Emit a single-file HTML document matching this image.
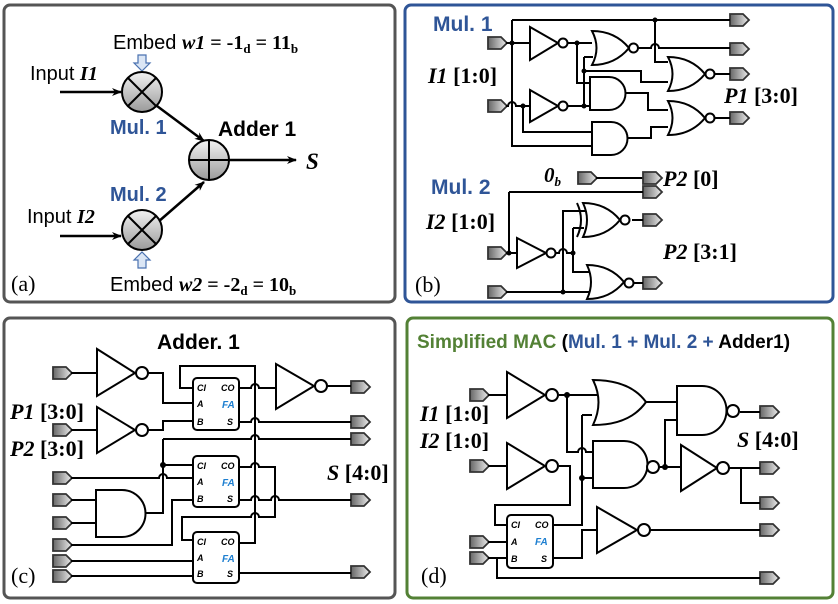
<!DOCTYPE html>
<html><head><meta charset="utf-8"><style>
html,body{margin:0;padding:0;background:#fff}
svg{display:block}
.w{fill:none;stroke:#000;stroke-width:2}
.g{fill:#fff;stroke:#000;stroke-width:2}
.ser{font-family:"Liberation Serif",serif}
.sans{font-family:"Liberation Sans",sans-serif}
</style></head><body>
<svg width="838" height="604" viewBox="0 0 838 604" xmlns="http://www.w3.org/2000/svg">
<defs>
<linearGradient id="pg" x1="0" y1="0" x2="1" y2="0"><stop offset="0" stop-color="#666"/><stop offset="1" stop-color="#eee"/></linearGradient>
<linearGradient id="cg" x1="0" y1="0" x2="0" y2="1"><stop offset="0" stop-color="#f2f2f2"/><stop offset="1" stop-color="#9a9a9a"/></linearGradient>
<g id="pin"><path d="M0,-6 H13 L19,0 L13,6 H0 Z" fill="url(#pg)" stroke="#333" stroke-width="1.8"/></g>
<marker id="ar" markerWidth="10" markerHeight="8" refX="9" refY="4" orient="auto" markerUnits="userSpaceOnUse"><path d="M0,0 L10,4 L0,8 L3,4 Z" fill="#000"/></marker>
</defs>

<rect x="4" y="5" width="391" height="297" rx="6" fill="#fff" stroke="#555" stroke-width="3"/>
<rect x="405" y="5" width="428" height="297" rx="6" fill="#fff" stroke="#2f5597" stroke-width="3"/>
<rect x="4" y="318" width="391" height="280" rx="6" fill="#fff" stroke="#555" stroke-width="3"/>
<rect x="407" y="318" width="426" height="280" rx="6" fill="#fff" stroke="#538135" stroke-width="3"/>

<!-- ===== (a) ===== -->
<text x="113" y="49" font-size="20" class="sans">Embed <tspan class="ser" font-weight="bold" font-style="italic">w1</tspan><tspan class="ser" font-weight="bold"> = -1<tspan font-size="13" dy="4">d</tspan><tspan dy="-4"> = 11</tspan><tspan font-size="13" dy="4">b</tspan></tspan></text>
<path d="M138,55 h8 v8 h4 l-8,8 l-8,-8 h4 z" fill="#dbe6f5" stroke="#4a72b0" stroke-width="1.2"/>
<text x="30" y="80" font-size="20" class="sans">Input <tspan class="ser" font-weight="bold" font-style="italic">I1</tspan></text>
<line x1="60" y1="92" x2="121" y2="92" stroke="#000" stroke-width="2.5" marker-end="url(#ar)"/>
<circle cx="142" cy="92" r="20" fill="url(#cg)" stroke="#000" stroke-width="2"/>
<path d="M128,78 L156,106 M156,78 L128,106" stroke="#000" stroke-width="2"/>
<text x="110" y="134" font-size="20" font-weight="bold" fill="#2f5597" class="sans">Mul. 1</text>
<text x="218" y="136" font-size="21" font-weight="bold" class="sans">Adder 1</text>
<line x1="157" y1="106" x2="204" y2="141" stroke="#000" stroke-width="2.5" marker-end="url(#ar)"/>
<circle cx="209" cy="160" r="20" fill="url(#cg)" stroke="#000" stroke-width="2"/>
<path d="M189,160 H229 M209,140 V180" stroke="#000" stroke-width="2"/>
<line x1="229" y1="160" x2="296" y2="160" stroke="#000" stroke-width="2.5" marker-end="url(#ar)"/>
<text x="306" y="169" font-size="23" font-weight="bold" font-style="italic" class="ser">S</text>
<text x="110" y="201" font-size="20" font-weight="bold" fill="#2f5597" class="sans">Mul. 2</text>
<line x1="158" y1="222" x2="204" y2="182" stroke="#000" stroke-width="2.5" marker-end="url(#ar)"/>
<text x="27" y="223" font-size="20" class="sans">Input <tspan class="ser" font-weight="bold" font-style="italic">I2</tspan></text>
<line x1="60" y1="236" x2="121" y2="236" stroke="#000" stroke-width="2.5" marker-end="url(#ar)"/>
<circle cx="142" cy="230" r="20" fill="url(#cg)" stroke="#000" stroke-width="2"/>
<path d="M128,216 L156,244 M156,216 L128,244" stroke="#000" stroke-width="2"/>
<path d="M138,268 h8 v-8 h4 l-8,-8 l-8,8 h4 z" fill="#dbe6f5" stroke="#4a72b0" stroke-width="1.2"/>
<text x="110" y="291" font-size="20" class="sans">Embed <tspan class="ser" font-weight="bold" font-style="italic">w2</tspan><tspan class="ser" font-weight="bold"> = -2<tspan font-size="13" dy="4">d</tspan><tspan dy="-4"> = 10</tspan><tspan font-size="13" dy="4">b</tspan></tspan></text>
<text x="11" y="291" font-size="22" class="ser">(a)</text>

<!-- ===== (b) ===== -->
<text x="433" y="31" font-size="21" font-weight="bold" fill="#2f5597" class="sans">Mul. 1</text>
<text x="428" y="83" font-size="22" font-weight="bold" class="ser"><tspan font-style="italic">I1</tspan> [1:0]</text>
<text x="724" y="103" font-size="22" font-weight="bold" class="ser"><tspan font-style="italic">P1</tspan> [3:0]</text>
<use href="#pin" x="488" y="43"/><use href="#pin" x="488" y="106"/>
<use href="#pin" x="730" y="20"/><use href="#pin" x="730" y="49"/><use href="#pin" x="730" y="74"/><use href="#pin" x="730" y="118"/>
<path class="w" d="M506,43 H530 M512,20 V146 H592 M512,20 H730 M506,106 H508 A4,4 0 0 1 516,106 H530"/>
<path class="w" d="M523,106 V132 H592 M568,43 H592 M577,43 V83 H590 M568,106 H590 M584,57 V106 M584,57 H593 M584,71 H641 V82 H668"/>
<path class="w" d="M638,48 H651 A4,4 0 0 1 659,48 H730 M655,20 V62 H668 M715,74 H730 M715,118 H730 M626,93 H648 V110 H668 M626,138 H651 V127 H668"/>
<polygon class="g" points="530,27 530,60 558,43"/><circle class="g" cx="563" cy="43" r="4.5"/>
<polygon class="g" points="530,90 530,122 558,106"/><circle class="g" cx="563" cy="106" r="4.5"/>
<path class="g" d="M592,31 Q615,31 629,48 Q615,65 592,65 Q601,48 592,31 Z"/><circle class="g" cx="633.5" cy="48" r="4.5"/>
<path class="g" d="M590,77 H609 A16.5,16.5 0 0 1 609,110 H590 Z"/>
<path class="g" d="M592,122 H611 A16.5,16.5 0 0 1 611,155 H592 Z"/>
<path class="g" d="M668,57 Q691,57 705,74 Q691,91 668,91 Q677,74 668,57 Z"/><circle class="g" cx="710" cy="74" r="4.5"/>
<path class="g" d="M668,101 Q691,101 705,118 Q691,135 668,135 Q677,118 668,101 Z"/><circle class="g" cx="710" cy="118" r="4.5"/>
<g fill="#000"><circle cx="512" cy="43" r="2.5"/><circle cx="577" cy="43" r="2.5"/><circle cx="523" cy="106" r="2.5"/><circle cx="584" cy="106" r="2.5"/><circle cx="584" cy="71" r="2.5"/><circle cx="655" cy="20" r="2.5"/></g>

<text x="544" y="182" font-size="21" font-weight="bold" font-style="italic" class="ser">0<tspan font-size="13" dy="4">b</tspan></text>
<use href="#pin" x="578" y="178"/><path class="w" d="M596,178 H643"/><use href="#pin" x="643" y="178"/>
<text x="663" y="186" font-size="22" font-weight="bold" class="ser"><tspan font-style="italic">P2</tspan> [0]</text>
<text x="431" y="194" font-size="21" font-weight="bold" fill="#2f5597" class="sans">Mul. 2</text>
<text x="426" y="229" font-size="22" font-weight="bold" class="ser"><tspan font-style="italic">I2</tspan> [1:0]</text>
<text x="663" y="259" font-size="22" font-weight="bold" class="ser"><tspan font-style="italic">P2</tspan> [3:1]</text>
<use href="#pin" x="643" y="192"/><use href="#pin" x="643" y="220"/><use href="#pin" x="643" y="283"/>
<use href="#pin" x="488" y="253"/><use href="#pin" x="488" y="292"/>
<path class="w" d="M509,192 H643 M509,192 V253 M506,253 H517 M556,253 H559 A4,4 0 0 1 567,253 H573 M506,292 H590 M563,292 V211 H585 M573,228 H584 M573,228 V272 H592 M632,220 H643 M632,283 H643"/>
<polygon class="g" points="517,238 517,268 546,253"/><circle class="g" cx="551" cy="253" r="4.5"/>
<path class="w" d="M577,203 Q585,220 577,237"/>
<path class="g" d="M583,203 Q606,203 620,220 Q606,237 583,237 Q591,220 583,203 Z"/><circle class="g" cx="625" cy="220" r="4.5"/>
<path class="g" d="M587,265 Q610,265 624,282 Q610,299 587,299 Q595,282 587,265 Z"/><circle class="g" cx="629" cy="283" r="4.5"/>
<g fill="#000"><circle cx="509" cy="253" r="2.5"/><circle cx="573" cy="253" r="2.5"/><circle cx="563" cy="292" r="2.5"/></g>
<text x="415" y="292" font-size="22" class="ser">(b)</text>

<!-- ===== (c) ===== -->
<text x="157" y="349" font-size="21" font-weight="bold" class="sans">Adder. 1</text>
<text x="10" y="419" font-size="22" font-weight="bold" class="ser"><tspan font-style="italic">P1</tspan> [3:0]</text>
<text x="10" y="456" font-size="22" font-weight="bold" class="ser"><tspan font-style="italic">P2</tspan> [3:0]</text>
<text x="327" y="480" font-size="22" font-weight="bold" class="ser"><tspan font-style="italic">S</tspan> [4:0]</text>
<use href="#pin" x="53" y="373"/><use href="#pin" x="53" y="430"/><use href="#pin" x="53" y="478"/><use href="#pin" x="53" y="500"/><use href="#pin" x="53" y="523"/><use href="#pin" x="53" y="545"/><use href="#pin" x="53" y="561"/><use href="#pin" x="53" y="576"/>
<use href="#pin" x="351" y="387"/><use href="#pin" x="351" y="422"/><use href="#pin" x="351" y="439"/><use href="#pin" x="351" y="500"/><use href="#pin" x="351" y="572"/>
<path class="w" d="M71,373 H97 M71,430 H97 M148,373 H163 V403 H193 M148,430 H163 V421 H193"/>
<path class="w" d="M239,388 H251 A4,4 0 0 1 259,388 H275 M327,386 H351 M239,422 H251 A4,4 0 0 1 259,422 H351"/>
<path class="w" d="M239,543 H255 V366 H180 V388 H193"/>
<path class="w" d="M163,439 H251 A4,4 0 0 1 259,439 H351 M163,439 V513 H145 M163,465 H193"/>
<path class="w" d="M71,478 H159 A4,4 0 0 1 167,478 H193 M71,500 H96 M71,523 H96 M71,545 H172 V500 H193"/>
<path class="w" d="M239,467 H251 A4,4 0 0 1 259,467 H275 V517 H259 A4,4 0 0 0 251,517 H182 V540 H193"/>
<path class="w" d="M239,500 H251 A4,4 0 0 1 259,500 H271 A4,4 0 0 1 279,500 H351"/>
<path class="w" d="M71,561 H193 M71,576 H193 M239,573 H351"/>
<polygon class="g" points="97,349 97,396 135,373"/><circle class="g" cx="142" cy="373" r="6"/>
<polygon class="g" points="97,407 97,453 135,430"/><circle class="g" cx="142" cy="430" r="6"/>
<polygon class="g" points="276,364 276,409 314,386"/><circle class="g" cx="321" cy="386" r="6"/>
<path class="g" d="M96,490 H122 A23.5,23.5 0 0 1 122,537 H96 Z"/>
<circle cx="163" cy="465" r="3" fill="#000"/>
<g class="sans" font-size="9" font-style="italic" font-weight="bold">
<rect class="g" x="193" y="378" width="46" height="52" rx="4"/>
<text x="197" y="391">CI</text><text x="197" y="407">A</text><text x="197" y="425">B</text><text x="221" y="391">CO</text><text x="222" y="408" fill="#1e7fd0" font-size="10">FA</text><text x="227" y="425">S</text>
<rect class="g" x="193" y="456" width="46" height="51" rx="4"/>
<text x="197" y="469">CI</text><text x="197" y="485">A</text><text x="197" y="502">B</text><text x="221" y="469">CO</text><text x="222" y="486" fill="#1e7fd0" font-size="10">FA</text><text x="227" y="502">S</text>
<rect class="g" x="193" y="532" width="46" height="51" rx="4"/>
<text x="197" y="545">CI</text><text x="197" y="561">A</text><text x="197" y="577">B</text><text x="221" y="545">CO</text><text x="222" y="562" fill="#1e7fd0" font-size="10">FA</text><text x="227" y="577">S</text>
</g>
<text x="11" y="583" font-size="22" class="ser">(c)</text>

<!-- ===== (d) ===== -->
<text x="417" y="348" font-size="19" font-weight="bold" class="sans"><tspan fill="#538135">Simplified MAC</tspan> (<tspan fill="#2f5597">Mul. 1 + Mul. 2 +</tspan> Adder1)</text>
<text x="420" y="421" font-size="22" font-weight="bold" class="ser"><tspan font-style="italic">I1</tspan> [1:0]</text>
<text x="420" y="448" font-size="22" font-weight="bold" class="ser"><tspan font-style="italic">I2</tspan> [1:0]</text>
<text x="737" y="447" font-size="22" font-weight="bold" class="ser"><tspan font-style="italic">S</tspan> [4:0]</text>
<use href="#pin" x="470" y="395"/><use href="#pin" x="470" y="466"/><use href="#pin" x="470" y="542"/><use href="#pin" x="470" y="558"/>
<use href="#pin" x="760" y="412"/><use href="#pin" x="760" y="468"/><use href="#pin" x="760" y="503"/><use href="#pin" x="760" y="530"/><use href="#pin" x="760" y="578"/>
<path class="w" d="M488,395 H507 M488,466 H507 M559,395 H597 M567,395 V452 H578 A4,4 0 0 1 586,452 H593 M582,415 H592 M582,415 V525 H553 M582,478 H593"/>
<path class="w" d="M559,466 H570 V505 H495 V525 H507 M646,402 H677 M659,467 H680 M665,467 V420 H677 M740,412 H760 M729,468 H760 M741,468 V503 H760"/>
<path class="w" d="M488,542 H507 M488,558 H507 M497,558 V578 H760 M553,558 H582 V530 H597 M650,530 H760"/>
<polygon class="g" points="507,372 507,418 545,395"/><circle class="g" cx="552" cy="395" r="6"/>
<polygon class="g" points="507,443 507,489 545,466"/><circle class="g" cx="552" cy="466" r="6"/>
<path class="g" d="M593,380 Q630,380 646,402 Q630,425 593,425 Q604,402 593,380 Z"/>
<path class="g" d="M677,386 H702 A24.5,24.5 0 0 1 702,435 H677 Z"/><circle class="g" cx="733" cy="411" r="6"/>
<path class="g" d="M593,441 H624 A23.5,23.5 0 0 1 624,488 H593 Z"/><circle class="g" cx="653" cy="467" r="6"/>
<polygon class="g" points="681,445 681,491 717,468"/><circle class="g" cx="723" cy="468" r="6"/>
<polygon class="g" points="597,507 597,553 637,530"/><circle class="g" cx="644" cy="530" r="6"/>
<g fill="#000"><circle cx="567" cy="395" r="3"/><circle cx="582" cy="478" r="3"/><circle cx="665" cy="467" r="3"/></g>
<g class="sans" font-size="9" font-style="italic" font-weight="bold">
<rect class="g" x="507" y="515" width="46" height="53" rx="4"/>
<text x="511" y="528">CI</text><text x="511" y="545">A</text><text x="511" y="562">B</text><text x="535" y="528">CO</text><text x="535" y="545" fill="#1e7fd0" font-size="10">FA</text><text x="541" y="562">S</text>
</g>
<text x="421" y="583" font-size="22" class="ser">(d)</text>
</svg>
</body></html>
